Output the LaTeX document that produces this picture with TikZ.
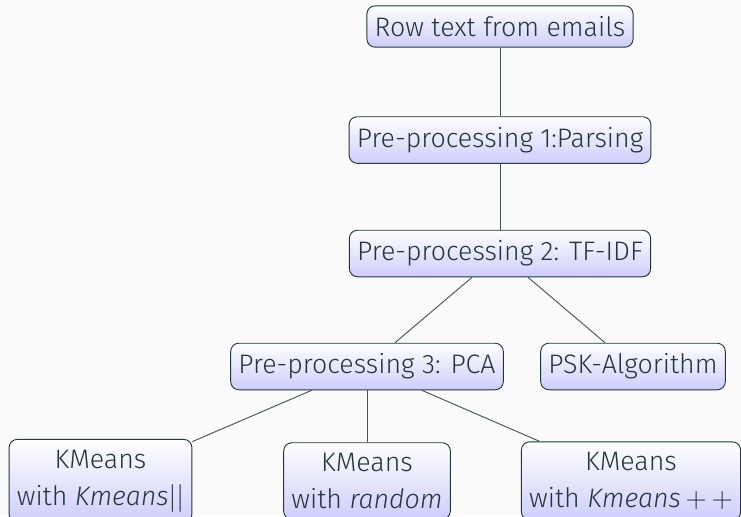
\documentclass[tikz,border=0pt]{standalone}
\usepackage{fontspec}
\setmainfont{Fira Sans Light}[ItalicFont={Fira Sans Light Italic}]
\usepackage{tikz}
\usetikzlibrary{arrows.meta, positioning}
\usepackage{xcolor}
\definecolor{darkteal}{HTML}{23373B}
\definecolor{slidebg}{HTML}{FAFAFA}
\definecolor{lavender}{RGB}{205,205,252}

\begin{document}
\begin{tikzpicture}[
    x=0.43pt, y=-0.43pt,
    every node/.style={font=\fontsize{11.5pt}{15.9pt}\selectfont, text=darkteal},
    stage/.style={rectangle, draw=darkteal, top color=white, bottom color=lavender, rounded corners=3.5pt, inner xsep=.3333em, inner ysep=4.5pt, align=center},
    link/.style={draw=darkteal!85, line width=0.4pt}
]
    \useasboundingbox (0,0) rectangle (741,516);
    \fill[slidebg] (0,0) rectangle (741,516);
    \clip (0,0) rectangle (741,516);

    % Input and pre-processing
    \node[stage] (raw) at (500, 26.5) {Row text from emails};
    \node[stage] (parse) at (500, 140) {Pre-processing 1:Parsing};
    \node[stage] (tfidf) at (500, 253.5) {Pre-processing 2: TF-IDF};

    % Third level
    \node[stage] (pca) at (367, 366.5) {Pre-processing 3: PCA};
    \node[stage] (psk) at (633, 366.5) {PSK-Algorithm};

    % Clustering variants
    \node[stage] (kpar) at (100.5, 481) {KMeans\\with \textit{Kmeans}$||$};
    \node[stage] (krand) at (367, 481) {KMeans\\with \textit{random}};
    \node[stage] (kpp) at (631, 481) {KMeans\\with \textit{Kmeans}$\,+\,+$};

    % Connectors
    \draw[link] (raw) -- (parse);
    \draw[link] (parse) -- (tfidf);
    \draw[link] (tfidf) -- (pca);
    \draw[link] (tfidf) -- (psk);
    \draw[link] (pca) -- (kpar);
    \draw[link] (pca) -- (krand);
    \draw[link] (pca) -- (kpp);

\end{tikzpicture}
\end{document}
